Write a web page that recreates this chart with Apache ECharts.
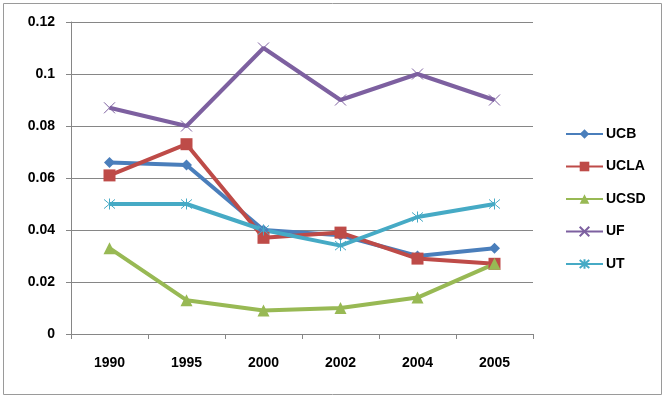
<!DOCTYPE html>
<html>
<head>
<meta charset="utf-8">
<script src="https://cdn.jsdelivr.net/npm/echarts@6/dist/echarts.min.js"></script>
<style>
  html, body { margin: 0; padding: 0; background: #fff; }
  #chart { width: 665px; height: 398px; }
</style>
</head>
<body>
<div id="chart"></div>
<script>
// data
const years = ['1990', '1995', '2000', '2002', '2004', '2005'];
const ucb  = [0.066, 0.065, 0.040, 0.038, 0.030, 0.033];
const ucla = [0.061, 0.073, 0.037, 0.039, 0.029, 0.027];
const ucsd = [0.033, 0.013, 0.009, 0.010, 0.014, 0.027];
const uf   = [0.087, 0.080, 0.110, 0.090, 0.100, 0.090];
const ut   = [0.050, 0.050, 0.040, 0.034, 0.045, 0.050];

const font = 'Liberation Sans, Arial, sans-serif';
const crossPath = 'path://M0,0 L10,10 M10,0 L0,10';
const starPath = 'path://M0,0 L10,10 M10,0 L0,10 M5,-1 L5,11';

function mkSeries(name, data, color, symbol, size, strokeOnly) {
  return {
    name: name,
    type: 'line',
    data: data,
    symbol: symbol,
    symbolSize: size,
    showAllSymbol: true,
    lineStyle: { color: color, width: 4 },
    itemStyle: strokeOnly
      ? { color: 'rgba(0,0,0,0)', borderColor: color, borderWidth: 1 }
      : { color: color, borderWidth: 0 },
    emphasis: { disabled: true },
    animation: false
  };
}

let myChart = echarts.init(document.getElementById('chart'));
myChart.setOption({
  backgroundColor: '#fff',
  animation: false,
  graphic: [{
    type: 'rect',
    shape: { x: 3.5, y: 3.5, width: 658, height: 391 },
    style: { fill: 'none', stroke: '#9a9a9a', lineWidth: 1 },
    silent: true
  }],
  grid: { left: 71, right: 132, top: 22, bottom: 64 },
  legend: {
    orient: 'vertical',
    left: 560,
    top: 122,
    itemWidth: 37,
    itemHeight: 12,
    itemGap: 18.5,
    textStyle: { fontFamily: font, fontWeight: 'bold', fontSize: 14, color: '#000', padding: [0, 0, 0, -2] },
    data: ['UCB', 'UCLA', 'UCSD', 'UF', 'UT']
  },
  xAxis: {
    type: 'category',
    data: years,
    boundaryGap: true,
    axisLine: { lineStyle: { color: '#868686' } },
    axisTick: { show: true, length: 5, inside: false, lineStyle: { color: '#868686' } },
    axisLabel: { fontFamily: font, fontWeight: 'bold', fontSize: 14, color: '#000', margin: 22 }
  },
  yAxis: {
    type: 'value',
    min: 0,
    max: 0.12,
    interval: 0.02,
    axisLine: { show: true, lineStyle: { color: '#868686' } },
    axisTick: { show: true, length: 5, lineStyle: { color: '#868686' } },
    splitLine: { lineStyle: { color: '#868686' } },
    axisLabel: {
      fontFamily: font, fontWeight: 'bold', fontSize: 14, color: '#000', margin: 16,
      formatter: function (v) { return v === 0 ? '0' : String(+v.toFixed(2)); }
    }
  },
  series: [
    mkSeries('UCB', ucb, '#4A7EBB', 'diamond', 11, false),
    mkSeries('UCLA', ucla, '#BE4B48', 'rect', 12, false),
    mkSeries('UCSD', ucsd, '#98B954', 'triangle', 12, false),
    mkSeries('UF', uf, '#7D60A0', crossPath, 11, true),
    mkSeries('UT', ut, '#46AAC5', starPath, 11, true)
  ]
});
</script>
</body>
</html>
